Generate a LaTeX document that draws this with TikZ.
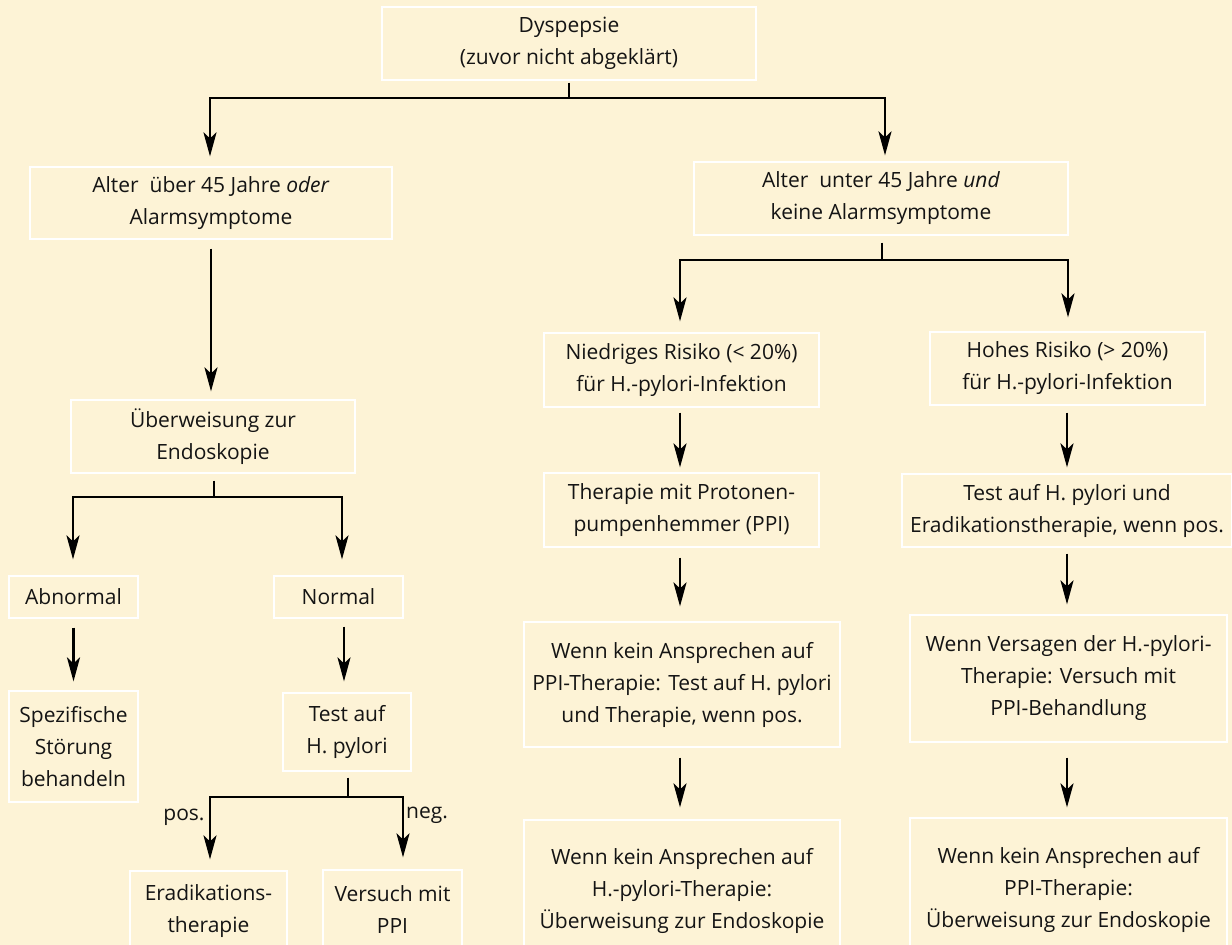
\documentclass[tikz,border=0pt]{standalone}
\usepackage{fontspec}
\setmainfont{Open Sans}
\usetikzlibrary{arrows.meta}
\definecolor{bg}{RGB}{253,243,214}
\definecolor{ink}{RGB}{20,20,20}
\begin{document}
\begin{tikzpicture}[x=1pt,y=-1pt,
  box/.style={draw=white,line width=1.2pt,fill=bg,inner sep=0pt,align=center,
    text=ink,font=\fontsize{21}{32}\selectfont},
  lbl/.style={inner sep=0pt,text=ink,font=\fontsize{21}{32}\selectfont},
  line/.style={line width=2.7pt,black},
  arr/.style={line width=2.7pt,black,-{Stealth[length=24pt,width=13pt,inset=6pt]}}]
\fill[bg] (0,0) rectangle (1232,945);
\useasboundingbox (0,0) rectangle (1232,945);
% nodes
\node[box,minimum width=374pt,minimum height=73pt] (dys) at (569,43.5) {Dyspepsie\\(zuvor nicht abgeklärt)};
\node[box,minimum width=362pt,minimum height=72pt] (alt1) at (211,203) {Alter\ \ über 45 Jahre \textit{oder}\\Alarmsymptome};
\node[box,minimum width=374pt,minimum height=73pt] (alt2) at (881,198.5) {Alter\ \ unter 45 Jahre \textit{und}\\keine Alarmsymptome};
\node[box,minimum width=284pt,minimum height=73pt] (ueb) at (213,436.5) {Überweisung zur\\Endoskopie};
\node[box,minimum width=129pt,minimum height=42pt] (abn) at (73.5,597) {Abnormal};
\node[box,minimum width=129pt,minimum height=42pt] (nor) at (338.5,597) {Normal};
\node[box,minimum width=129pt,minimum height=111pt] (spz) at (73.5,746.5) {Spezifische\\Störung\\behandeln};
\node[box,minimum width=128pt,minimum height=78pt] (test) at (347,732) {Test auf\\H. pylori};
\node[box,minimum width=157pt,minimum height=80pt] (era) at (208.5,911) {Eradikations-\\therapie};
\node[box,minimum width=139pt,minimum height=80pt] (ver) at (392.5,910) {Versuch mit\\PPI};
\node[box,minimum width=275pt,minimum height=74pt] (nie) at (681.5,370) {Niedriges Risiko (< 20\%)\\für H.-pylori-Infektion};
\node[box,minimum width=275pt,minimum height=73pt] (hoh) at (1067.5,368.5) {Hohes Risiko (> 20\%)\\für H.-pylori-Infektion};
\node[box,minimum width=275pt,minimum height=74pt] (the) at (681.5,510) {Therapie mit Protonen-\\pumpenhemmer (PPI)};
\node[box,minimum width=330pt,minimum height=73pt] (tes) at (1067,510.5) {Test auf H. pylori und\\Eradikationstherapie, wenn pos.};
\node[box,minimum width=316pt,minimum height=125pt] (wk1) at (682,684.5) {Wenn kein Ansprechen auf\\PPI-Therapie: Test auf H. pylori\\und Therapie, wenn pos.};
\node[box,minimum width=317pt,minimum height=127pt] (wv) at (1068.5,678.5) {Wenn Versagen der H.-pylori-\\Therapie: Versuch mit\\PPI-Behandlung};
\node[box,minimum width=316pt,minimum height=142pt] (wk2) at (682,891) {Wenn kein Ansprechen auf\\H.-pylori-Therapie:\\Überweisung zur Endoskopie};
\node[box,minimum width=317pt,minimum height=144pt] (wk3) at (1068.5,890) {Wenn kein Ansprechen auf\\PPI-Therapie:\\Überweisung zur Endoskopie};
% labels
\node[lbl] (pos) at (184,817) {pos.};
\node[lbl,anchor=west] (neg) at (406,815) {neg.};
% junctions
\coordinate (j1) at (569,98);
\coordinate (j2) at (214,497);
\coordinate (j3) at (348,797);
\coordinate (j4) at (882,260);
% connectors
\draw[line] ([yshift=-2]dys.south) -- (j1);
\draw[arr] (j1) -| ([xshift=-1,yshift=10]alt1.north);
\draw[arr] (j1) -| ([xshift=4,yshift=6]alt2.north);
\draw[arr] ([yshift=-9]alt1.south) -- ([yshift=8]alt1.south |- ueb.north);
\draw[line] ([xshift=1,yshift=-7]ueb.south) -- (j2);
\draw[arr] (j2) -| ([xshift=-0.5,yshift=16]abn.north);
\draw[arr] (j2) -| ([xshift=3.5,yshift=16]nor.north);
\draw[arr] ([yshift=-9]abn.south) -- ([yshift=9]spz.north);
\draw[arr] ([xshift=5.5,yshift=-8]nor.south) -- ([xshift=-3,yshift=11]test.north);
\draw[line] ([xshift=1,yshift=-6]test.south) -- (j3);
\draw[arr] (j3) -| ([xshift=1.5,yshift=11]era.north);
\draw[arr] (j3) -| ([xshift=10.5,yshift=12]ver.north);
\draw[line] ([xshift=1,yshift=-7]alt2.south) -- (j4);
\draw[arr] (j4) -| ([xshift=-1.5,yshift=11]nie.north);
\draw[arr] (j4) -| ([xshift=0.5,yshift=14]hoh.north);
\draw[arr] ([xshift=-1.5,yshift=-5]nie.south) -- ([xshift=-1.5,yshift=5]the.north);
\draw[arr] ([xshift=-0.5,yshift=-7]hoh.south) -- ([yshift=6]tes.north);
\draw[arr] ([xshift=-1.5,yshift=-10]the.south) -- ([xshift=-2,yshift=15]wk1.north);
\draw[arr] ([yshift=-6]tes.south) -- ([xshift=-1.5,yshift=10]wv.north);
\draw[arr] ([xshift=-2,yshift=-10]wk1.south) -- ([xshift=-2,yshift=12]wk2.north);
\draw[arr] ([xshift=-1.5,yshift=-15]wv.south) -- ([xshift=-1.5,yshift=10]wk3.north);
\end{tikzpicture}
\end{document}
